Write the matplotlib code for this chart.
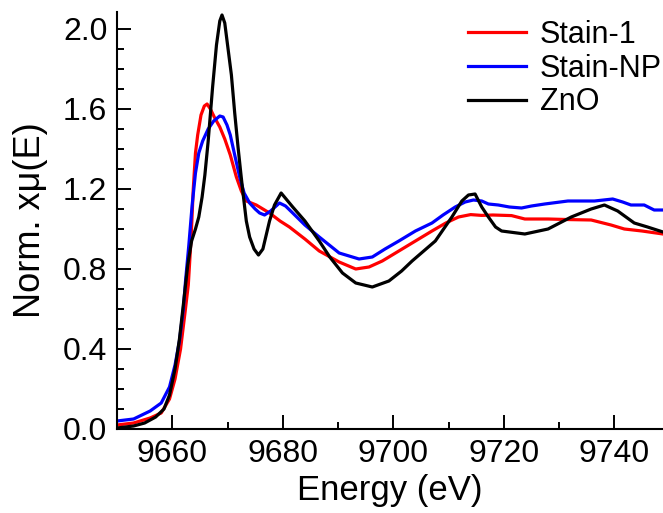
import matplotlib
matplotlib.use("Agg")
import matplotlib.pyplot as plt
from matplotlib.ticker import MultipleLocator, FormatStrFormatter

plt.rcParams["font.family"] = ["Liberation Sans", "DejaVu Sans"]

# Zn K-edge XANES, normalized absorption
energy_s1 = [9650, 9653, 9656, 9658, 9659.5, 9660.5, 9661.5, 9662.3, 9662.9, 9663.4,
             9663.8, 9664.2, 9664.6, 9665.2, 9665.8, 9666.3, 9666.9, 9667.6, 9668.6,
             9669.5, 9670.5, 9671.6, 9672.5, 9673.4, 9675.2, 9677.6, 9679.5, 9681.2,
             9684, 9686.6, 9690.2, 9693.2, 9695.6, 9698, 9701, 9704, 9707, 9709.5,
             9711.8, 9714, 9716, 9718, 9721.4, 9723.8, 9728, 9732, 9735.8, 9739.4,
             9741.8, 9745, 9748.8]
mu_s1 = [0.02, 0.03, 0.055, 0.08, 0.15, 0.25, 0.40, 0.58, 0.72, 0.95,
         1.20, 1.38, 1.47, 1.57, 1.615, 1.625, 1.60, 1.56, 1.51,
         1.45, 1.37, 1.26, 1.19, 1.14, 1.12, 1.08, 1.04, 1.01,
         0.95, 0.89, 0.835, 0.80, 0.81, 0.84, 0.89, 0.94, 0.99, 1.03,
         1.06, 1.072, 1.068, 1.07, 1.067, 1.05, 1.05, 1.047, 1.045, 1.02,
         1.00, 0.99, 0.975]

energy_np = [9650, 9653, 9656, 9658, 9659.5, 9660.5, 9661.3, 9662, 9662.4, 9663.0,
             9663.6, 9664.2, 9664.8, 9665.5, 9666.5, 9667.5, 9668.6, 9669.2, 9669.9,
             9670.5, 9671.3, 9672.2, 9673.0, 9674.0, 9675.0, 9675.8, 9676.7, 9677.8,
             9679.4, 9680.5, 9681.8, 9684, 9686.6, 9690.2, 9693.8, 9696.2, 9698.5,
             9701, 9704, 9707, 9709, 9711.2, 9713, 9714.5, 9716, 9717.2, 9719, 9721,
             9723.2, 9725, 9727.4, 9731.6, 9736.4, 9739.7, 9741.5, 9743, 9745.4,
             9747.2, 9748.8]
mu_np = [0.04, 0.05, 0.09, 0.13, 0.21, 0.32, 0.44, 0.60, 0.74, 0.92,
         1.12, 1.28, 1.38, 1.44, 1.50, 1.54, 1.565, 1.56, 1.52,
         1.47, 1.37, 1.26, 1.18, 1.13, 1.10, 1.08, 1.07, 1.09,
         1.13, 1.115, 1.08, 1.02, 0.96, 0.88, 0.85, 0.86, 0.90,
         0.94, 0.99, 1.03, 1.07, 1.11, 1.135, 1.145, 1.14, 1.125, 1.12, 1.11,
         1.105, 1.115, 1.125, 1.14, 1.14, 1.15, 1.135, 1.12, 1.12,
         1.095, 1.095]

energy_zno = [9650, 9653, 9655, 9657, 9658.5, 9659.5, 9660.5, 9661.3, 9662, 9662.8,
              9663.5, 9664.2, 9664.8, 9665.4, 9665.9, 9666.5, 9667.3, 9668.0, 9668.6,
              9669.0, 9669.5, 9670.1, 9670.7, 9671.3, 9671.9, 9672.4, 9672.8, 9673.4,
              9674.0, 9674.8, 9675.6, 9676.4, 9677.0, 9677.6, 9678.5, 9679.7, 9680.6,
              9681.8, 9684, 9686.6, 9688.5, 9690.8, 9693.2, 9696.2, 9699.2, 9701.5,
              9703.4, 9707.6, 9710.6, 9712.4, 9713.6, 9714.8, 9716, 9717.2, 9718.5,
              9719.6, 9723.8, 9728, 9732.2, 9735.8, 9738.2, 9740.6, 9743.6, 9746,
              9748.8]
mu_zno = [0.005, 0.015, 0.03, 0.06, 0.10, 0.17, 0.30, 0.45, 0.62, 0.82,
          0.94, 1.00, 1.06, 1.16, 1.27, 1.44, 1.71, 1.92, 2.04,
          2.07, 2.03, 1.90, 1.77, 1.58, 1.41, 1.28, 1.18, 1.04,
          0.96, 0.90, 0.87, 0.90, 0.97, 1.04, 1.12, 1.18, 1.15,
          1.11, 1.04, 0.94, 0.86, 0.78, 0.73, 0.71, 0.74, 0.79,
          0.84, 0.94, 1.06, 1.14, 1.17, 1.175, 1.11, 1.06, 1.01,
          0.99, 0.975, 1.00, 1.06, 1.10, 1.12, 1.09, 1.03, 1.01,
          0.985]

series_labels = ["Stain-1", "Stain-NP", "ZnO"]
series_colors = ["#ff0000", "#0000ff", "#000000"]

fig = plt.figure(figsize=(6.63, 5.13), dpi=100)
ax = fig.add_axes([117 / 663, 84 / 513, 546 / 663, 417 / 513])

for e, m, lab, col in zip([energy_s1, energy_np, energy_zno],
                          [mu_s1, mu_np, mu_zno],
                          series_labels, series_colors):
    ax.plot(e, m, color=col, lw=2.3, label=lab, solid_joinstyle="round")

ax.set_xlim(9650, 9748.8)
ax.set_ylim(0, 2.085)

ax.xaxis.set_major_locator(MultipleLocator(20))
ax.xaxis.set_minor_locator(MultipleLocator(10))
ax.yaxis.set_major_locator(MultipleLocator(0.4))
ax.yaxis.set_minor_locator(MultipleLocator(0.1))
ax.yaxis.set_major_formatter(FormatStrFormatter("%.1f"))

for side in ("top", "right"):
    ax.spines[side].set_visible(False)
for side in ("left", "bottom"):
    ax.spines[side].set_linewidth(1.5)

ax.tick_params(which="major", direction="in", length=10, width=1.4,
               labelsize=23, pad=7)
ax.tick_params(which="minor", direction="in", length=5, width=1.4)

ax.set_xlabel("Energy (eV)", fontsize=25, labelpad=4)
ax.set_ylabel("Norm. xμ(E)", fontsize=26, labelpad=11)

ax.legend(loc="upper left", bbox_to_anchor=(468 / 663, 1 - 20 / 513),
          bbox_transform=fig.transFigure, frameon=False, fontsize=22,
          borderpad=0, borderaxespad=0, handlelength=1.9, handletextpad=0.45,
          labelspacing=0.12)

fig.savefig("out.png", dpi=100)
